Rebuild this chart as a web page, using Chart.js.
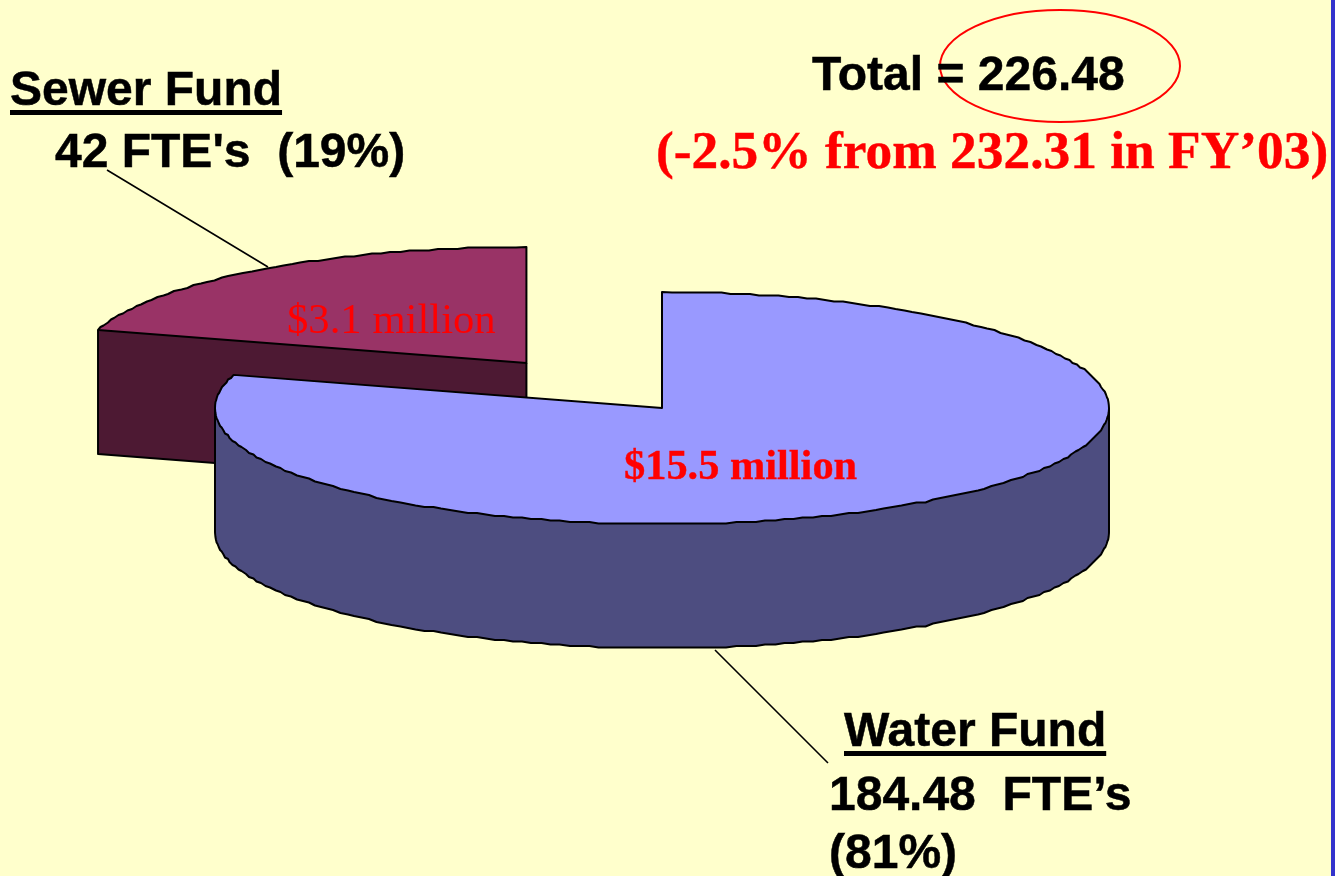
<!DOCTYPE html>
<html><head><meta charset="utf-8">
<script src="https://cdn.jsdelivr.net/npm/chart.js@4/dist/chart.umd.min.js"></script>
<style>
html,body{margin:0;padding:0;background:#FFFFCC;width:1335px;height:876px;overflow:hidden}
#wrap{position:relative;width:1335px;height:876px;overflow:hidden}
canvas{position:absolute;left:0;top:0}
#strip{position:absolute;left:1331px;top:0;width:4px;height:876px;background:#3333CC}
.t{position:absolute;white-space:pre;line-height:1}
.sans{font:bold 48px/1 "Liberation Sans",Arial,sans-serif;color:#000;-webkit-text-stroke:0.5px #000}
.u{text-decoration:underline;text-decoration-thickness:5px;text-underline-offset:5px;text-decoration-skip-ink:none}
</style></head><body>
<div id="wrap"><canvas id="c" width="1335" height="876"></canvas><div id="strip"></div></div>
<script>
const categories = ['Water Fund', 'Sewer Fund'];
const fteValues = [184.48, 42];
const topColors = ['#9999FF', '#993366'];
const wallColors = ['#4D4D80', '#4D1933'];
const explodeOffsets = [0, 161];
const fundLabels = [
  {text:"Sewer Fund", x:10, y:106, cls:'sans u'},
  {text:"42 FTE's  (19%)", x:55, y:168, cls:'sans'},
  {text:"Total = 226.48", x:812, y:91, cls:'sans'},
  {text:"Water Fund", x:844, y:747, cls:'sans u'},
  {text:"184.48  FTE\u2019s", x:829, y:811, cls:'sans'},
  {text:"(81%)", x:829, y:869, cls:'sans'}
];
const redLabels = [
  {text:"(-2.5% from 232.31 in FY\u201903)", x:656, y:169, size:53.4, weight:'bold'},
  {text:"$15.5 million", x:624, y:480, size:42.4, weight:'bold'},
  {text:"$3.1 million", x:287, y:334, size:42.7, weight:'normal'}
];
const RX = 447, RY = 116, DEPTH = 124, WARP = 0.16, SNAP = 1.5, EXPLODE_BIAS = 0.518;

const pie3d = {
  id:'pie3d',
  beforeDatasetsDraw(chart){
    const ctx = chart.ctx, arcs = chart.getDatasetMeta(0).data;
    const warp = a => { const t = a + Math.PI/2; return t + WARP*Math.sin(2*t); };
    const snap = v => Math.round(v/SNAP)*SNAP;
    // painter's order: exploded slice behind, main slice in front
    [1,0].forEach(i=>{
      const el = arcs[i], R = el.outerRadius, sx = RX/R, sy = RY/R;
      const t0 = warp(el.startAngle), t1 = warp(el.endAngle);
      const mid = t0*EXPLODE_BIAS + t1*(1-EXPLODE_BIAS);
      const off = el.options.offset || 0;
      const cx = el.x + Math.sin(mid)*off*sx, cy = el.y - Math.cos(mid)*off*sy;
      const pts = [{x:cx,y:cy}];
      const n = Math.max(4, Math.round((t1-t0)/0.022));
      for(let k=0;k<=n;k++){
        const t = t0 + (t1-t0)*k/n;
        const onEnd = k===0||k===n;
        const px = cx + Math.sin(t)*R*sx, py = cy - Math.cos(t)*R*sy;
        pts.push(onEnd?{x:px,y:py}:{x:Math.abs(Math.sin(t))>0.985?px:snap(px),y:snap(py)});
      }
      // side wall: edges running right-to-left on screen face the viewer
      const idx = [];
      pts.forEach((p,k)=>{ const q = pts[(k+1)%pts.length]; if(q.x - p.x < -0.01) idx.push(k); });
      const first = pts[idx[0]], last = pts[(idx[idx.length-1]+1)%pts.length];
      const lowerEdge = () => {
        ctx.moveTo(first.x,first.y);ctx.lineTo(first.x,first.y+DEPTH);
        for(const k of idx){const q=pts[(k+1)%pts.length];ctx.lineTo(q.x,q.y+DEPTH);}
        ctx.lineTo(last.x,last.y);
      };
      ctx.save();
      ctx.lineJoin='round';
      ctx.beginPath();
      lowerEdge();
      for(let j=idx.length-1;j>=0;j--){const p=pts[idx[j]];ctx.lineTo(p.x,p.y);}
      ctx.closePath();
      ctx.fillStyle = wallColors[i];
      ctx.fill();
      ctx.strokeStyle = el.options.borderColor;
      ctx.lineWidth = el.options.borderWidth*2;
      ctx.beginPath();
      lowerEdge();
      ctx.stroke();
      // top face
      ctx.beginPath();
      pts.forEach((p,k)=>k?ctx.lineTo(p.x,p.y):ctx.moveTo(p.x,p.y));
      ctx.closePath();
      ctx.fillStyle = el.options.backgroundColor;
      ctx.fill();ctx.stroke();
      ctx.restore();
    });
    return false;
  },
  afterDraw(chart){
    const ctx = chart.ctx;
    ctx.save();
    ctx.strokeStyle='#000';ctx.lineWidth=1.6;
    ctx.beginPath();ctx.moveTo(107,170);ctx.lineTo(268,267);ctx.moveTo(715,650);ctx.lineTo(828,763);ctx.stroke();
    ctx.strokeStyle='#FF0000';ctx.lineWidth=2;
    ctx.beginPath();ctx.ellipse(1060,66,120,56,0,0,Math.PI*2);ctx.stroke();
    ctx.restore();
  }
};

new Chart(document.getElementById('c'),{
  type:'pie',
  data:{labels:categories,datasets:[{data:fteValues,backgroundColor:topColors,borderColor:'#000000',borderWidth:1,offset:explodeOffsets}]},
  options:{
    responsive:false,animation:false,
    layout:{padding:{left:0,right:11,top:0,bottom:60}},
    plugins:{legend:{display:false},tooltip:{enabled:false}},
    events:[]
  },
  plugins:[pie3d]
});

const wrap = document.getElementById('wrap');
const BASE = 0.8465;
fundLabels.forEach(l=>{
  const d=document.createElement('div');d.className='t '+l.cls;d.textContent=l.text;
  d.style.left=l.x+'px';d.style.top=(l.y-48*BASE)+'px';wrap.appendChild(d);
});
redLabels.forEach(l=>{
  const d=document.createElement('div');d.className='t';d.textContent=l.text;
  d.style.cssText+=`left:${l.x}px;top:${l.y-l.size*BASE}px;font:${l.weight} ${l.size}px/1 "Liberation Serif","Times New Roman",serif;color:#FF0000`+(l.weight==='bold'?';-webkit-text-stroke:0.4px #FF0000':'');
  wrap.appendChild(d);
});
</script>
</body></html>
